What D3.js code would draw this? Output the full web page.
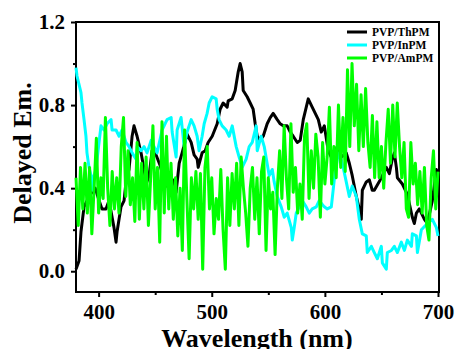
<!DOCTYPE html>
<html>
<head>
<meta charset="utf-8">
<script src="https://cdn.jsdelivr.net/npm/d3@7"></script>
<style>
    body { margin: 0; background: #fff; }
    svg { display: block; font-family: "Liberation Serif", "Times New Roman", serif; font-weight: bold; }
</style>
</head>
<body>
<svg id="canvas" width="457" height="349"></svg>
<script>
// ---- data ----
const seriesNames = ["PVP/ThPM", "PVP/InPM", "PVP/AmPM"];
const seriesColors = ["#000000", "#00ffff", "#00ff00"];

const xTicks = [400, 500, 600, 700];
const xMinorTicks = [450, 550, 650];
const yTicks = [0.0, 0.4, 0.8, 1.2];
const yMinorTicks = [0.2, 0.6, 1.0];

// [wavelength nm, delayed emission]
const thpm = [
    [380, 0.01], [382.7, 0.05], [384.4, 0.19], [387.1, 0.31], [391.5, 0.36], [394.2, 0.38],
    [397, 0.40], [400.4, 0.34], [403, 0.30], [406.5, 0.30], [409.2, 0.34], [413.6, 0.21],
    [415.4, 0.14], [416.3, 0.19], [419.8, 0.31], [422.5, 0.34], [424.2, 0.43], [426.9, 0.49],
    [429.6, 0.65], [431.3, 0.70], [434, 0.65], [437.5, 0.57], [440.2, 0.49], [442, 0.42],
    [444.6, 0.46], [447.3, 0.58], [450.8, 0.56], [454.3, 0.51], [457.9, 0.44], [460.5, 0.41],
    [464.1, 0.45], [466.7, 0.43], [468.5, 0.38], [471.2, 0.52], [473.8, 0.57], [478.2, 0.66],
    [481.8, 0.62], [484.4, 0.56], [487.1, 0.54], [488, 0.50], [491.5, 0.57], [494.2, 0.58],
    [496.8, 0.62], [500.4, 0.65], [504.8, 0.71], [507.4, 0.78], [510.1, 0.81], [513.6, 0.79],
    [514.5, 0.82], [518.1, 0.83], [520.7, 0.87], [523.4, 0.96], [525.1, 1.00], [526.9, 0.96],
    [527.8, 0.87], [531.3, 0.84], [534, 0.81], [536.6, 0.78], [538.4, 0.71], [540.2, 0.65],
    [542.8, 0.63], [545.5, 0.65], [549, 0.71], [551.7, 0.74], [554.3, 0.76], [557.9, 0.73],
    [560.5, 0.71], [563.2, 0.70], [566.7, 0.70], [569.4, 0.67], [572, 0.65], [575.6, 0.62],
    [578.2, 0.63], [580.9, 0.73], [585.3, 0.83], [588.8, 0.79], [591.5, 0.76], [594.2, 0.73],
    [596.8, 0.67], [599.5, 0.70], [603, 0.58], [606.5, 0.54], [611, 0.60], [614.5, 0.55],
    [618.9, 0.57], [621.6, 0.52], [624.2, 0.46], [627.8, 0.36], [630.4, 0.30], [632.2, 0.25],
    [633.1, 0.39], [636.6, 0.43], [639.3, 0.44], [641.9, 0.39], [643.7, 0.39], [649, 0.44],
    [654.3, 0.50], [657, 0.47], [659.6, 0.54], [661.4, 0.57], [663.2, 0.50], [664.1, 0.45],
    [668.5, 0.42], [672.9, 0.37], [677.3, 0.26], [679.1, 0.23], [680.9, 0.28], [683.5, 0.30],
    [688, 0.25], [690.6, 0.23], [695, 0.34], [698.6, 0.49], [700, 0.44]
];

const inpm = [
    [380, 0.98], [380.9, 0.94], [384.4, 0.86], [385.3, 0.81], [387.1, 0.73], [388.8, 0.65],
    [389.7, 0.57], [391.5, 0.50], [393.3, 0.46], [394.2, 0.39], [395.9, 0.46], [397.7, 0.49],
    [399.5, 0.58], [402.1, 0.70], [404.8, 0.68], [407.4, 0.71], [411, 0.73], [411.9, 0.68],
    [415.4, 0.68], [418.1, 0.65], [420.7, 0.68], [424.2, 0.62], [426.9, 0.60], [429.6, 0.57],
    [433.1, 0.54], [434, 0.60], [437.5, 0.58], [440.2, 0.60], [442.8, 0.57], [446.4, 0.63],
    [449, 0.60], [451.7, 0.57], [456.1, 0.68], [460.5, 0.73], [464.1, 0.74], [465, 0.67],
    [468.5, 0.55], [469.4, 0.68], [472.9, 0.74], [475.6, 0.60], [478.2, 0.67], [481.8, 0.73],
    [484.4, 0.70], [487.1, 0.65], [488.8, 0.58], [491.5, 0.65], [493.3, 0.71], [495.9, 0.76],
    [497.7, 0.81], [500.4, 0.84], [503.9, 0.83], [504.8, 0.78], [506.5, 0.73], [509.2, 0.70],
    [512.7, 0.68], [515.4, 0.65], [518.1, 0.70], [521.6, 0.60], [524.2, 0.55], [526.9, 0.50],
    [530.4, 0.54], [533.1, 0.60], [535.8, 0.62], [539.3, 0.70], [540.2, 0.58], [543.7, 0.65],
    [546.4, 0.60], [550.8, 0.46], [553.5, 0.49], [555.2, 0.43], [557.9, 0.36], [561.4, 0.31],
    [564.1, 0.26], [566.7, 0.28], [570.3, 0.21], [571.2, 0.15], [572.9, 0.21], [574.7, 0.28],
    [577.3, 0.31], [580, 0.34], [583.5, 0.31], [586.2, 0.28], [588.8, 0.30], [592.4, 0.31],
    [595, 0.34], [599.5, 0.31], [602.1, 0.30], [605.7, 0.31], [608.3, 0.44], [611, 0.54],
    [612.7, 0.57], [615.4, 0.52], [618.9, 0.43], [621.6, 0.36], [624.2, 0.41], [627.8, 0.36],
    [630.4, 0.25], [633.1, 0.18], [636.6, 0.17], [637.5, 0.09], [641.1, 0.12], [643.7, 0.09],
    [646.4, 0.06], [649.9, 0.12], [650.8, 0.04], [654.3, 0.01], [655.2, 0.09], [658.8, 0.10],
    [661.4, 0.12], [664.1, 0.09], [667.6, 0.14], [670.3, 0.10], [672.9, 0.15], [676.5, 0.12],
    [677.3, 0.18], [680.9, 0.17], [681.8, 0.09], [685.3, 0.20], [690.6, 0.23], [695, 0.25],
    [698.6, 0.21], [700, 0.17]
];

// AmPM sampled every 2 nm from 380 nm
const ampmStart = 380;
const ampmStep = 2;
const ampm = [
    0.45, 0.22, 0.50, 0.30, 0.52, 0.28, 0.50, 0.18, 0.40, 0.64,
    0.28, 0.45, 0.35, 0.74, 0.40, 0.22, 0.48, 0.30, 0.45, 0.28,
    0.60, 0.74, 0.36, 0.58, 0.32, 0.45, 0.24, 0.62, 0.25, 0.52,
    0.30, 0.55, 0.22, 0.45, 0.70, 0.30, 0.50, 0.14, 0.72, 0.28,
    0.65, 0.30, 0.52, 0.25, 0.45, 0.17, 0.40, 0.10, 0.68, 0.35,
    0.06, 0.45, 0.30, 0.48, 0.25, 0.47, 0.01, 0.50, 0.60, 0.30,
    0.45, 0.18, 0.35, 0.25, 0.49, 0.20, 0.01, 0.45, 0.22, 0.47,
    0.30, 0.52, 0.22, 0.55, 0.40, 0.28, 0.12, 0.40, 0.50, 0.25,
    0.45, 0.18, 0.48, 0.55, 0.10, 0.45, 0.30, 0.38, 0.08, 0.40,
    0.58, 0.35, 0.70, 0.45, 0.30, 0.71, 0.38, 0.50, 0.28, 0.42,
    0.25, 0.65, 0.71, 0.35, 0.58, 0.40, 0.66, 0.55, 0.26, 0.62,
    0.42, 0.55, 0.79, 0.42, 0.60, 0.45, 0.80, 0.50, 0.74, 0.48,
    0.97, 0.60, 1.00, 0.70, 0.90, 0.58, 0.85, 0.60, 0.88, 0.62,
    0.50, 0.75, 0.45, 0.72, 0.45, 0.60, 0.40, 0.62, 0.78, 0.52,
    0.80, 0.55, 0.81, 0.60, 0.45, 0.62, 0.30, 0.26, 0.62, 0.42,
    0.52, 0.32, 0.48, 0.28, 0.50, 0.22, 0.15, 0.45, 0.58, 0.30,
    0.48
];

// ---- layout ----
const svg = d3.select("#canvas");
const plotLeft = 76, plotRight = 438, plotTop = 22, plotBottom = 292;

const x = d3.scaleLinear().domain([380, 700]).range([plotLeft, plotRight]);
const y = d3.scaleLinear().domain([-0.1, 1.2]).range([plotBottom, plotTop]);

// frame
svg.append("rect")
    .attr("x", plotLeft)
    .attr("y", plotTop)
    .attr("width", plotRight + 1 - plotLeft)
    .attr("height", plotBottom - plotTop)
    .attr("fill", "none")
    .attr("stroke", "#000")
    .attr("stroke-width", 2);

// x axis
svg.append("g")
    .attr("transform", `translate(0, ${plotBottom})`)
    .call(d3.axisBottom(x).tickValues(xTicks).tickSize(5).tickPadding(7).tickFormat(d3.format("d")));
svg.append("g")
    .attr("transform", `translate(0, ${plotBottom})`)
    .call(d3.axisBottom(x).tickValues(xMinorTicks).tickSize(3).tickFormat(""));

// y axis
svg.append("g")
    .attr("transform", `translate(${plotLeft}, 0)`)
    .call(d3.axisLeft(y).tickValues(yTicks).tickSize(5).tickPadding(6).tickFormat(d3.format(".1f")));
svg.append("g")
    .attr("transform", `translate(${plotLeft}, 0)`)
    .call(d3.axisLeft(y).tickValues(yMinorTicks).tickSize(3).tickFormat(""));

svg.selectAll(".domain").remove();
svg.selectAll(".tick line").attr("stroke", "#000").attr("stroke-width", 2);
svg.selectAll(".tick text")
    .attr("fill", "#000")
    .style("font-family", "'Liberation Serif', serif")
    .style("font-weight", "bold")
    .style("font-size", "21px");

// lines
const line = d3.line()
    .x((d) => x(d[0]))
    .y((d) => y(d[1]));

const ampmPts = ampm.map((v, i) => [ampmStart + i * ampmStep, v]);
const allSeries = [thpm, inpm, ampmPts];

allSeries.forEach((pts, i) => {
    svg.append("path")
        .datum(pts)
        .attr("d", line)
        .attr("fill", "none")
        .attr("stroke", seriesColors[i])
        .attr("stroke-width", 3)
        .attr("stroke-linejoin", "round");
});

// legend
const legendRows = [32, 45, 58];
seriesNames.forEach((name, i) => {
    svg.append("line")
        .attr("x1", 347)
        .attr("x2", 367)
        .attr("y1", legendRows[i])
        .attr("y2", legendRows[i])
        .attr("stroke", seriesColors[i])
        .attr("stroke-width", 3);
    svg.append("text")
        .attr("x", 372)
        .attr("y", legendRows[i] + 4)
        .attr("font-size", "11.5px")
        .text(name);
});

// axis titles
svg.append("text")
    .attr("x", (plotLeft + plotRight) / 2)
    .attr("y", 347)
    .attr("text-anchor", "middle")
    .attr("font-size", "26px")
    .text("Wavelength (nm)");

svg.append("text")
    .attr("transform", "translate(31, 153) rotate(-90)")
    .attr("text-anchor", "middle")
    .attr("font-size", "26px")
    .text("Delayed Em.");
</script>
</body>
</html>
